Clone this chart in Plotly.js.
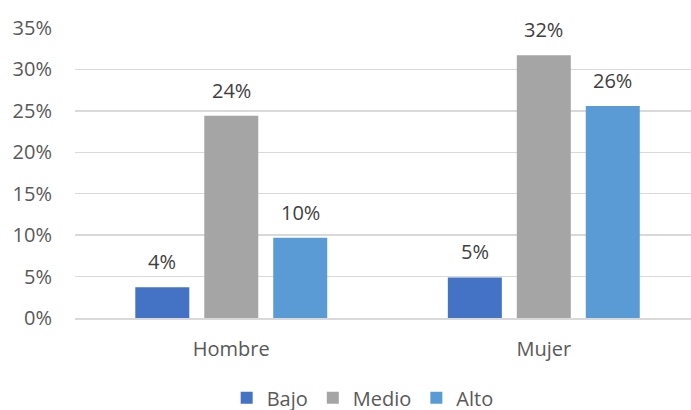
<!DOCTYPE html>
<html>
<head>
<meta charset="utf-8">
<script src="https://cdn.plot.ly/plotly-3.0.1.min.js"></script>
<style>
  html, body { margin: 0; padding: 0; background: #fff; }
  #chart { width: 691px; height: 410px; }
</style>
</head>
<body>
<div id="chart"></div>
<script>
// Nivel por sexo (proporción)
const categories = ['Hombre', 'Mujer'];
const seriesNames = ['Bajo', 'Medio', 'Alto'];
const bajo = [0.037, 0.049];
const medio = [0.244, 0.317];
const alto = [0.097, 0.256];
const yTicks = [0, 0.05, 0.10, 0.15, 0.20, 0.25, 0.30, 0.35];
const yTickLabels = ['0%', '5%', '10%', '15%', '20%', '25%', '30%', '35%'];

const colors = ['#4472C4', '#A5A5A5', '#5B9BD5'];
const values = [bajo, medio, alto];
const FONT = 'Open Sans, sans-serif';
const TEXT = '#595959';

const traces = values.map((v, i) => ({
  type: 'bar',
  name: seriesNames[i],
  x: categories,
  y: v,
  marker: { color: colors[i] },
  hoverinfo: 'skip'
}));

// Value labels above each bar, offset to the bar's slot in the group
const slot = 69;
const annotations = [];
values.forEach((v, i) => {
  v.forEach((val, j) => {
    annotations.push({
      x: categories[j], y: val, xref: 'x', yref: 'y',
      text: Math.round(val * 100) + '%',
      showarrow: false, xanchor: 'center', yanchor: 'bottom',
      xshift: (i - 1) * slot, yshift: 10,
      font: { family: FONT, size: 20, color: '#404040' }
    });
  });
});

const layout = {
  width: 691, height: 410,
  margin: { l: 75, r: 0, t: 28, b: 92, autoexpand: false },
  paper_bgcolor: '#fff', plot_bgcolor: '#fff',
  font: { family: FONT, size: 20, color: TEXT },
  barmode: 'group', bargap: 0.338, bargroupgap: 0.217,
  showlegend: true,
  legend: {
    orientation: 'h', x: 0.467, xanchor: 'center',
    yref: 'container', y: 0.03, yanchor: 'middle',
    font: { family: FONT, size: 20, color: TEXT },
    itemwidth: 30, traceorder: 'normal'
  },
  xaxis: {
    type: 'category', range: [-0.5, 1.471],
    showgrid: false, zeroline: false,
    showline: true, linecolor: '#D9D9D9', linewidth: 1.5,
    ticks: 'outside', ticklen: 12, tickcolor: 'rgba(0,0,0,0)',
    tickfont: { family: FONT, size: 20, color: TEXT }
  },
  yaxis: {
    range: [0, 0.35], tickvals: yTicks, ticktext: yTickLabels,
    showgrid: true, gridcolor: '#D9D9D9', gridwidth: 1.5,
    zeroline: false, showline: false,
    ticks: 'outside', ticklen: 18, tickcolor: 'rgba(0,0,0,0)',
    tickfont: { family: FONT, size: 20, color: TEXT }
  },
  annotations: annotations
};

Plotly.newPlot('chart', traces, layout, { displayModeBar: false, staticPlot: true });
</script>
</body>
</html>
